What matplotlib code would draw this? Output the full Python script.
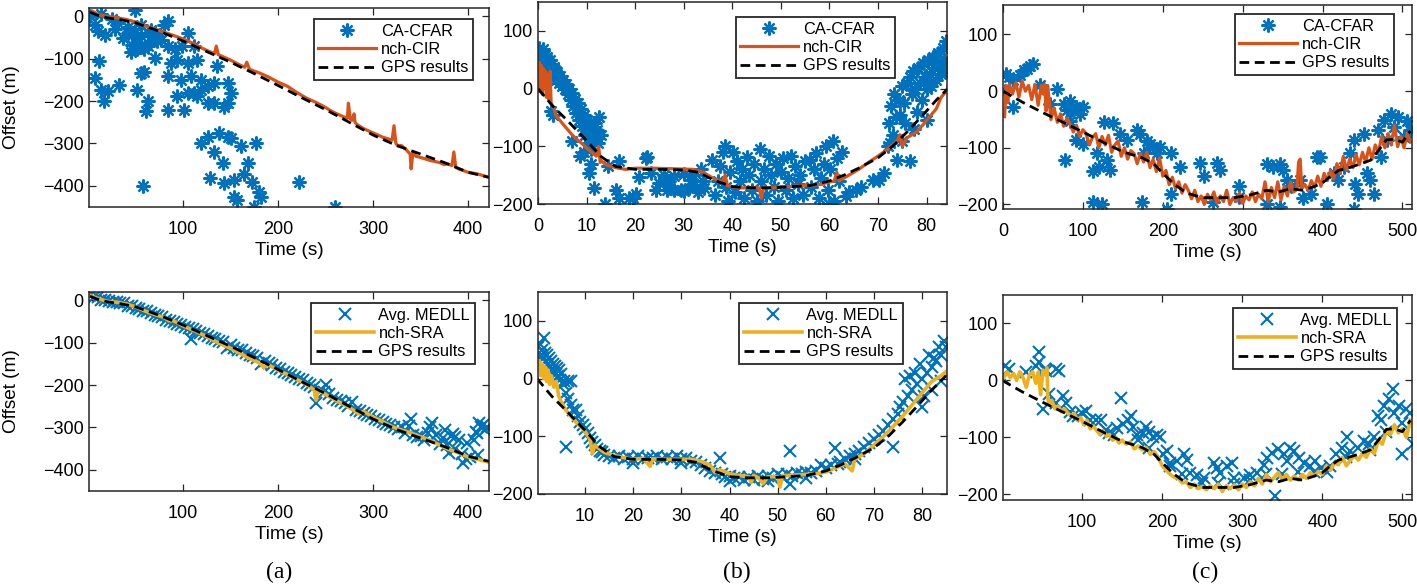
import matplotlib
matplotlib.use("Agg")
import matplotlib.pyplot as plt

plt.rcParams['font.family'] = ['Liberation Sans', 'DejaVu Sans']

BLUE = '#0072BD'
ORANGE = '#D95319'
YELLOW = '#EDB120'

# ---------------- column (a) ----------------
gps_a_t = [2, 10, 20, 35, 50, 75, 100, 125, 150, 175, 200, 225, 250, 275, 300, 325, 350, 375, 400, 422]
gps_a_y = [10, 3, -3, -8, -15, -35, -58, -83, -108, -135, -163, -192, -220, -250, -280, -305, -325, -345, -368, -380]

cir_a_t = [5, 10, 20, 30, 40, 50, 60, 75, 90, 100, 110, 120, 130, 133, 135, 137, 140, 150, 160, 165,
           167, 170, 180, 190, 200, 210, 220, 230, 240, 250, 255, 260, 270, 273, 274, 276, 278, 280, 281, 283,
           290, 300, 310, 320, 322, 324, 326, 330, 335, 339, 340, 342, 345, 350, 360, 370, 375, 378, 383, 385,
           387, 390, 400, 410, 422]
cir_a_y = [12, 5, 0, -3, -7, -13, -22, -33, -45, -53, -63, -75, -85, -88, -70, -90, -93, -103, -115, -120,
           -108, -125, -133, -143, -155, -165, -180, -193, -203, -215, -222, -228, -238, -240, -205, -242, -245, -230, -250, -255,
           -265, -275, -285, -292, -258, -300, -305, -305, -315, -325, -360, -320, -330, -333, -340, -345, -350, -348, -352, -320,
           -356, -360, -368, -372, -380]

cfar_a_t = [2, 7, 10, 18, 12, 7, 14, 21, 17, 33, 49, 84, 80, 105, 52, 52, 63, 84, 91, 99,
            87, 94, 105, 115, 112, 84, 98, 108, 105, 112, 119, 119, 126, 136, 133, 147, 150, 147, 133, 143,
            126, 115, 84, 101, 94, 52, 63, 61, 56, 59, 73, 77, 66, 42, 42, 49, 49, 46, 59, 66,
            73, 63, 56, 32, 25, 14, 56, 70, 70, 28, 37, 45,
            119, 126, 133, 138, 147, 150, 142, 128, 143, 154, 161, 177, 168, 164, 173, 180, 182, 154, 157, 175,
            222, 260, 58]
cfar_a_y = [0, -19, -35, -43, -106, -145, -173, -177, -200, -161, 15, -11, -19, -39, -62, -78, -70, -70, -78, -70,
            -110, -103, -110, -103, -70, -141, -149, -141, -181, -181, -149, -173, -165, -118, -157, -157, -181, -205, -205, -213,
            -205, -189, -220, -220, -189, -173, -200, -224, -133, -130, -47, -55, -31, -24, -39, -78, -39, -67, -78, -59,
            -59, -39, -47, -15, -7, 5, -19, -39, -98, -30, -50, -85,
            -299, -284, -319, -276, -284, -288, -347, -382, -394, -386, -307, -299, -347, -371, -390, -414, -426, -426, -434, -450,
            -390, -450, -400]

sra_a_t = [2, 10, 20, 30, 40, 50, 60, 70, 80, 85, 90, 100, 110, 120, 130, 140, 150, 160, 170, 180,
           185, 190, 200, 210, 220, 230, 238, 240, 242, 250, 260, 270, 280, 285, 290, 300, 310, 320, 330, 340,
           350, 360, 370, 380, 390, 400, 410, 422]
sra_a_y = [12, 5, -2, -4, -8, -15, -25, -33, -40, -48, -48, -60, -70, -80, -92, -103, -113, -125, -137, -147,
           -158, -152, -165, -175, -187, -198, -212, -236, -210, -222, -235, -247, -260, -268, -262, -275, -286, -298, -306, -313,
           -322, -330, -342, -352, -360, -370, -375, -382]

medll_a_t = [2, 6, 10, 14, 18, 22, 26, 30, 34, 38,
             42, 46, 50, 54, 58, 62, 66, 70, 74, 78,
             82, 86, 90, 94, 98, 102, 106, 108, 110, 114,
             118, 122, 126, 130, 134, 138, 142, 146, 150, 154,
             158, 162, 166, 170, 174, 178, 182, 186, 190, 194,
             198, 202, 206, 210, 214, 218, 222, 226, 230, 234,
             238, 240, 244, 248, 250, 254, 258, 262, 266, 270,
             274, 278, 282, 286, 290, 294, 298, 302, 306, 310,
             314, 318, 322, 326, 330, 334, 338, 340, 342, 346,
             350, 354, 358, 360, 362, 366, 370, 374, 376, 378,
             382, 384, 386, 390, 394, 398, 402, 406, 408, 410,
             412, 414, 416, 418, 420, 386, 399, 409, 380, 395]
medll_a_y = [12, 8, 8, 2, 0, -2, -3, -4, -5, -6,
             -12, -14, -18, -20, -24, -26, -30, -34, -36, -40,
             -45, -48, -50, -55, -58, -62, -65, -92, -68, -72,
             -76, -80, -84, -88, -90, -96, -98, -112, -106, -112,
             -116, -118, -124, -128, -132, -136, -150, -143, -148, -152,
             -160, -162, -168, -172, -176, -180, -186, -188, -196, -200,
             -204, -242, -212, -215, -200, -222, -230, -234, -238, -242,
             -250, -240, -258, -262, -265, -270, -274, -280, -282, -288,
             -292, -295, -300, -304, -300, -312, -296, -280, -318, -322,
             -320, -330, -312, -300, -290, -318, -338, -326, -305, -342,
             -320, -315, -350, -330, -362, -374, -370, -330, -310, -365,
             -290, -300, -295, -305, -300, -322, -337, -313, -360, -383]

# ---------------- column (b) ----------------
gps_b_t = [0, 3, 6, 10, 13, 16, 20, 25, 30, 33, 36, 40, 44, 48, 52, 56, 60, 63, 66, 70, 73, 76, 79, 82, 85]
gps_b_y = [0, -30, -55, -90, -118, -135, -140, -140, -141, -145, -158, -170, -172, -172, -170, -168, -160, -150, -138, -120,
           -100, -75, -48, -20, 5]

cir_b_t = [0.1, 0.3, 0.5, 0.7, 0.9, 1.1, 1.3, 1.5, 1.7, 2.0, 2.3, 2.5, 2.7, 3.0, 3.3, 3.6, 4, 5, 6, 7,
           8, 9, 10, 11, 12, 12.5, 12.8, 13, 14, 16, 18, 20, 24, 28, 32, 34, 36, 38, 38.5, 39,
           40, 42, 44, 45.5, 46, 46.5, 47, 48, 50, 52, 54, 56, 58, 60, 61, 61.5, 62, 64, 66, 68,
           70, 72, 74, 74.5, 75, 76, 78, 80, 82, 83, 84, 84.3, 84.6, 84.9]
cir_b_y = [-5, 45, 0, 40, -10, 35, 5, 30, -15, 25, -20, 30, -25, -30, -35, -45, -50, -60, -70, -80,
           -88, -95, -103, -110, -117, -100, -128, -125, -132, -137, -140, -138, -138, -139, -140, -145, -155, -162, -150, -168,
           -170, -172, -172, -172, -190, -170, -172, -172, -170, -170, -168, -168, -166, -162, -160, -145, -160, -150, -140, -128,
           -117, -105, -90, -80, -100, -85, -75, -55, -35, -15, -5, 0, 10, 50]

cfar_b_t = [0.2, 0.4, 0.6, 0.8, 1.0, 1.2, 1.4, 1.6, 1.8, 2.0,
            2.2, 2.4, 2.6, 2.8, 3.0, 3.2, 3.4, 3.6, 3.8, 4.0,
            4.3, 4.6, 4.9, 5.2, 5.5, 5.8, 6.1, 6.4, 6.7, 7.0,
            7.3, 7.6, 7.9, 8.2, 8.5, 8.8, 9.1, 9.4, 9.7, 10.0,
            10.3, 10.6, 10.9, 11.2, 11.5, 11.8, 12.2, 12.6, 12.9, 12.4,
            0.1, 2.6, 3.0, 8.6, 10.6, 11.6, 13.7, 7.0, 9.5, 11.0,
            14.5, 16.7, 16, 16.7, 18.8, 20.2, 20.8, 22.2, 23.2, 24.3,
            26.6, 28, 29.5, 31, 32.2, 31.5, 34.2, 33.6, 35.9, 27,
            25, 22.5, 30, 33, 19.5, 26, 28, 30, 32, 34,
            36.5, 37, 37.5, 38, 38.5, 38.8, 39.2, 39.6, 40.1, 40.5,
            41, 41.5, 42, 42.5, 43, 43.5, 44, 44.5, 45, 45.6,
            46, 46.5, 47, 47.6, 48, 48.5, 49, 49.5, 50, 50.5,
            51, 51.5, 52.1, 52.5, 53, 53.5, 54, 54.5, 55, 55.9,
            56.2, 56.8, 57.3, 57.8, 58.3, 58.8, 59.3, 59.8, 60.2, 60.7,
            61, 61.5, 62, 62.5, 63.4, 64, 65.5, 66.5, 69, 60,
            70.3, 71.3, 72, 72.3, 72.6, 73, 73.3, 73.6, 74, 74.3,
            74.6, 75, 75.3, 75.6, 76, 76.5, 76.5, 77, 77.3, 77.6,
            78, 78.3, 78.6, 79, 79.3, 79.6, 80, 80.3, 80.6, 81,
            81.3, 81.6, 82, 82.3, 82.6, 83, 83.3, 83.6, 84, 84,
            72.5, 75, 77.5, 80]
cfar_b_y = [70, 55, 62, 45, 68, 50, 58, 40, 55, 48,
            35, 50, 30, 42, 25, 38, 20, 32, 15, 28,
            10, 22, 5, 15, 0, 8, -10, 0, -20, -8,
            -30, -18, -42, -25, -55, -35, -65, -45, -80, -55,
            -95, -65, -105, -75, -90, -60, -72, -50, -80, -95,
            15, -38, -45, -117, -146, -172, -200, -90, -110, -130,
            -135, -126, -175, -189, -189, -183, -154, -121, -146, -175,
            -175, -175, -175, -172, -167, -158, -172, -140, -123, -160,
            -163, -119, -178, -180, -190, -150, -152, -148, -150, -160,
            -185, -160, -135, -110, -99, -170, -195, -145, -110, -180,
            -125, -160, -140, -190, -118, -150, -175, -130, -195, -104,
            -160, -140, -185, -116, -150, -170, -130, -195, -145, -120,
            -175, -155, -116, -190, -135, -165, -150, -185, -125, -123,
            -170, -140, -112, -190, -155, -130, -100, -175, -140, -90,
            -195, -120, -160, -110, -187, -180, -175, -170, -158, -200,
            -158, -146, -100, -60, -30, -80, -10, -50, -123, -20,
            -45, 5, -25, -60, 10, -126, 20, -10, 30, 0,
            -40, 35, 10, -20, 45, 20, 0, 50, 25, 5,
            55, 35, 15, 62, 40, 25, 70, 50, 82, 30,
            -95, -90, -70, -55]

sra_b_t = [0.5, 0.8, 1.1, 1.4, 1.7, 2, 2.3, 2.6, 3, 3.5, 4, 4.5, 5, 6, 7, 8, 9, 10, 11, 11.5,
           12, 13, 14, 16, 18, 20, 22, 23.5, 24, 26, 28, 30, 32, 34, 36, 37, 38, 40, 42, 44,
           44.5, 45, 46, 47, 48, 50, 50.5, 51, 52, 54, 56, 58, 60, 62, 64, 65.5, 66, 68, 70, 72,
           74, 76, 78, 80, 82, 84, 85]
sra_b_y = [30, 5, 25, 0, 20, -5, 15, -10, 5, -15, -5, -30, -40, -55, -65, -75, -83, -92, -105, -130,
           -115, -122, -128, -133, -137, -140, -138, -152, -139, -140, -140, -140, -140, -143, -150, -163, -158, -165, -168, -170,
           -180, -168, -172, -182, -170, -170, -188, -168, -168, -167, -166, -165, -162, -155, -148, -160, -140, -130, -115, -100,
           -83, -65, -45, -25, -5, 5, 12]

medll_b_t = [0.3, 0.5, 0.7, 0.9, 1.1, 1.3, 1.5, 1.7, 1.9, 2.1,
             2.3, 2.5, 2.7, 2.9, 3.1, 3.3, 3.5, 3.7, 3.9, 4.1,
             4.3, 4.5, 4.7, 5, 5.3, 5.6, 6, 6.5, 7, 8,
             6, 6.5, 7, 7.5, 8.5, 9, 9.5, 10, 10.5, 11,
             11.5, 12, 12.5, 13, 13.5, 14, 15, 16, 17, 18,
             19, 20, 21, 22, 23, 24, 25, 26, 27, 28,
             29, 30, 31, 32, 33, 34, 35, 36, 37, 38,
             38.5, 39, 40, 41, 42, 43, 44, 45, 46, 47,
             48, 49, 50, 51, 52, 52.5, 52.5, 53, 54, 55,
             56, 57, 58, 59, 60, 61, 62, 62.5, 63, 64,
             65, 66, 67, 68, 69, 70, 71, 72, 73, 74,
             74, 75, 75.5, 76, 76.5, 77, 77.5, 78, 78.5, 79,
             79.5, 80, 80.5, 81, 81.5, 82, 82.5, 83, 83.5, 84,
             84.5, 85, 80, 82, 84, 20, 30, 40, 48, 56, 66]
medll_b_y = [55, 45, 60, 40, 50, 35, 70, 45, 30, 40,
             25, 35, 20, 30, 15, 25, 10, 22, 8, 18,
             5, 15, -2, 8, -10, -5, -118, -5, -5, -55,
             -25, -35, -45, -55, -65, -75, -80, -88, -95, -103,
             -110, -115, -122, -125, -128, -132, -135, -137, -135, -140,
             -136, -140, -135, -140, -137, -138, -135, -140, -136, -140,
             -135, -140, -137, -142, -145, -150, -155, -160, -163, -138,
             -165, -170, -168, -172, -170, -175, -170, -176, -168, -174,
             -168, -172, -166, -170, -165, -126, -183, -168, -164, -166,
             -162, -164, -160, -150, -155, -150, -120, -148, -145, -140,
             -135, -130, -125, -118, -112, -105, -98, -90, -80, -118,
             -70, -62, -50, -40, 0, -30, 5, -20, 10, -10,
             25, 0, -30, 10, 40, 20, 35, 30, 55, 40,
             65, 55, -50, -20, -5, -146, -146, -178, -178, -172, -140]

# ---------------- column (c) ----------------
gps_c_t = [0, 25, 50, 75, 100, 125, 150, 175, 190, 200, 215, 230, 250, 270, 290, 310, 330, 345, 360, 375,
           390, 400, 410, 420, 440, 460, 470, 480, 490, 500, 510]
gps_c_y = [0, -20, -38, -55, -72, -90, -107, -118, -130, -145, -165, -180, -188, -188, -188, -183, -175, -178, -172, -175,
           -168, -162, -150, -140, -132, -122, -105, -86, -85, -90, -70]

cir_c_t = [2, 4, 6, 8, 12, 16, 20, 24, 28, 32, 36, 40, 44, 48, 50, 52, 54, 56, 58, 60,
           64, 68, 72, 76, 80, 84, 88, 92, 96, 100, 104, 108, 112, 116, 120, 124, 128, 132, 136, 140,
           144, 148, 152, 156, 160, 164, 168, 172, 176, 180, 184, 188, 192, 196, 200, 204, 208, 212, 216, 220,
           224, 228, 232, 236, 240, 244, 248, 252, 256, 260, 264, 268, 272, 276, 280, 284, 288, 292, 296, 300,
           304, 308, 312, 316, 320, 324, 328, 332, 336, 340, 344, 348, 352, 356, 360, 364, 368, 370, 372, 374,
           378, 382, 386, 390, 394, 398, 402, 406, 410, 414, 418, 422, 426, 430, 434, 438, 442, 446, 450, 454,
           458, 462, 466, 470, 474, 478, 482, 486, 490, 494, 498, 502, 506, 510]
cir_c_y = [-45, 10, -20, 12, -5, 15, -10, 18, 0, 10, -15, 12, -25, 10, -5, 12, -35, 10, -20, -50,
           -30, -55, -40, -62, -48, -58, -72, -60, -80, -68, -75, -95, -82, -75, -100, -80, -95, -78, -108, -95,
           -88, -115, -100, -120, -105, -110, -128, -110, -125, -108, -135, -120, -142, -118, -150, -140, -165, -152, -172, -160,
           -180, -165, -175, -190, -175, -195, -185, -200, -182, -192, -178, -198, -185, -195, -175, -200, -188, -195, -180, -198,
           -185, -192, -178, -195, -182, -190, -160, -195, -170, -188, -160, -192, -168, -185, -160, -178, -170, -125, -120, -172,
           -165, -175, -158, -170, -150, -168, -145, -158, -140, -155, -128, -145, -115, -140, -120, -135, -112, -130, -108, -125,
           -100, -120, -95, -108, -80, -100, -75, -95, -60, -98, -80, -100, -75, -90]

cfar_c_t = [2, 4, 8, 12, 30, 34, 38, 26, 21, 13,
            46, 59, 67, 76, 80, 84, 88, 92, 96, 100,
            84, 78, 92, 100, 126, 138, 118, 120, 113, 130,
            134, 113, 124, 147, 155, 168, 172, 176, 180, 184,
            188, 193, 197, 210, 174, 205, 210, 222, 247, 251,
            268, 272, 263, 296, 296, 330, 338, 347, 351, 355,
            360, 330, 347, 376, 385, 393, 397, 414, 419, 427,
            435, 439, 441, 444, 440, 456, 460, 452, 469, 465,
            473, 477, 486, 494, 506, 510, 490, 481, 502, 406,
            372]
cfar_c_y = [0, 30, 25, 20, 39, 45, 48, 37, 28, -28,
            10, -22, 4, -22, -34, -17, -34, -28, -40, -28,
            -52, -122, -87, -93, -54, -57, -110, -134, -141, -122,
            -139, -196, -199, -75, -87, -69, -75, -110, -88, -93,
            -99, -110, -99, -110, -196, -208, -181, -134, -127, -150,
            -127, -139, -196, -168, -186, -128, -134, -128, -139, -157,
            -168, -199, -205, -188, -182, -116, -116, -145, -157, -134,
            -110, -87, -163, -181, -208, -145, -157, -75, -69, -181,
            -116, -51, -40, -46, -52, -69, -63, -87, -81, -199,
            -157]

sra_c_t = [2, 6, 10, 14, 18, 22, 26, 30, 34, 38, 42, 45, 48, 51, 54, 56, 57, 58, 62, 66,
           70, 74, 78, 82, 86, 90, 94, 98, 102, 106, 110, 114, 118, 122, 126, 130, 134, 138, 142, 146,
           150, 155, 160, 165, 170, 175, 180, 185, 190, 195, 200, 205, 210, 215, 220, 225, 230, 235, 240, 245,
           250, 255, 260, 265, 270, 275, 280, 285, 290, 295, 300, 305, 310, 315, 320, 325, 330, 335, 340, 345,
           350, 355, 360, 365, 370, 375, 380, 385, 390, 395, 400, 405, 410, 415, 420, 425, 430, 435, 440, 445,
           450, 455, 460, 465, 470, 475, 480, 485, 490, 495, 500, 505, 510]
sra_c_y = [5, 15, 5, 12, 0, 15, 5, -12, 10, 15, -5, 15, -25, 18, 10, 22, -30, -40, -35, -50,
           -45, -55, -50, -58, -62, -58, -70, -65, -78, -70, -85, -80, -88, -95, -88, -98, -95, -105, -100, -110,
           -105, -112, -108, -120, -115, -122, -118, -130, -125, -135, -150, -158, -165, -170, -172, -180, -178, -188, -182, -190,
           -186, -192, -185, -190, -182, -195, -185, -190, -183, -192, -182, -188, -178, -185, -172, -182, -165, -178, -170, -162,
           -175, -165, -175, -168, -175, -165, -172, -162, -168, -160, -165, -150, -158, -145, -148, -135, -150, -140, -132, -140,
           -128, -135, -120, -128, -105, -112, -88, -95, -78, -92, -85, -100, -70]

medll_c_t = [1, 3, 9, 30, 42, 46, 46, 53, 55, 51,
             59, 67, 71, 76, 80, 67, 88, 100, 105, 117,
             124, 130, 134, 143, 149, 151, 157, 161, 163, 168,
             176, 180, 184, 188, 193, 197, 184, 201, 206, 210,
             218, 227, 231, 235, 243, 252, 264, 268, 272, 281,
             287, 289, 302, 310, 318, 327, 331, 337, 344, 341,
             352, 356, 360, 365, 371, 377, 385, 391, 398, 406,
             417, 425, 431, 435, 444, 452, 458, 465, 469, 473,
             477, 483, 488, 490, 496, 500, 505, 500, 513, 509,
             85, 95, 110, 140, 170, 210, 225, 250, 270, 290,
             310, 330, 350, 370, 390, 410, 430, 460, 480]
medll_c_y = [5, 26, 20, 14, 26, 50, 32, 20, 17, -50,
             -23, 20, 17, -27, -40, -40, -63, -57, -54, -69,
             -69, -87, -93, -84, -31, -77, -69, -63, -81, -96,
             -93, -81, -90, -99, -96, -99, -118, -130, -124, -145,
             -142, -130, -139, -163, -166, -172, -145, -154, -163, -151,
             -145, -172, -172, -166, -163, -148, -136, -127, -121, -203,
             -130, -142, -118, -124, -136, -145, -151, -142, -154, -160,
             -130, -118, -100, -124, -118, -106, -112, -100, -63, -69,
             -45, -33, -15, -57, -45, -75, -51, -130, -112, -57,
             -55, -62, -70, -95, -105, -150, -165, -180, -180, -182,
             -175, -165, -165, -160, -160, -150, -135, -122, -90]

# ---------------- layout helpers ----------------
W, H = 1417, 586
fig = plt.figure(figsize=(W / 100, H / 100), dpi=100)


def px_axes(left, top, right, bottom):
    return fig.add_axes([left / W, 1 - bottom / H, (right - left) / W, (bottom - top) / H])


def style(ax, xlim, ylim, xticks, yticks):
    ax.set_xlim(*xlim)
    ax.set_ylim(*ylim)
    ax.set_xticks(xticks)
    ax.set_yticks(yticks)
    ax.tick_params(direction='in', length=5, width=0.9, top=True, right=True,
                   labelsize=13, colors='#262626', labelcolor='black')
    ax.tick_params(axis='x', pad=10)
    ax.tick_params(axis='y', pad=4)
    for s in ax.spines.values():
        s.set_linewidth(1.1)
        s.set_color('#262626')
    ax.set_xlabel('Time (s)', fontsize=13.7, labelpad=3)


def add_legend(ax, right_px, top_px):
    leg = ax.legend(loc='upper right', bbox_to_anchor=(right_px / W, 1 - top_px / H),
                    bbox_transform=fig.transFigure, fontsize=11.8, frameon=True, fancybox=False,
                    framealpha=1, edgecolor='#262626', handlelength=3.5, handletextpad=0.3,
                    borderpad=0.3, labelspacing=0.2, borderaxespad=0, numpoints=1)
    leg.get_frame().set_linewidth(1.3)


def draw_top(ax, st, sy, lt, ly, gt, gy):
    ax.plot(st, sy, linestyle='none', marker=(8, 2, 0), ms=10, mew=1.6, color=BLUE, label='CA-CFAR')
    ax.plot(lt, ly, color=ORANGE, lw=2.3, label='nch-CIR')
    ax.plot(gt, gy, color='black', lw=2, dashes=(3.5, 2), label='GPS results')


def draw_bottom(ax, st, sy, lt, ly, gt, gy):
    ax.plot(st, sy, linestyle='none', marker='x', ms=8, mew=1.5, color=BLUE, label='Avg. MEDLL')
    ax.plot(lt, ly, color=YELLOW, lw=2.6, label='nch-SRA')
    ax.plot(gt, gy, color='black', lw=2, dashes=(3.5, 2), label='GPS results')


# top row
ax = px_axes(89, 8, 489, 207)
draw_top(ax, cfar_a_t, cfar_a_y, cir_a_t, cir_a_y, gps_a_t, gps_a_y)
style(ax, (1, 422), (-450, 20), [100, 200, 300, 400], [-400, -300, -200, -100, 0])
ax.set_ylabel('Offset (m)', fontsize=13.7, labelpad=16)
add_legend(ax, 473, 19)

ax = px_axes(538, 2, 947, 204)
draw_top(ax, cfar_b_t, cfar_b_y, cir_b_t, cir_b_y, gps_b_t, gps_b_y)
style(ax, (0, 84.2), (-200, 150), list(range(0, 81, 10)), [-200, -100, 0, 100])
add_legend(ax, 895, 17)

ax = px_axes(1003, 5, 1412, 209)
draw_top(ax, cfar_c_t, cfar_c_y, cir_c_t, cir_c_y, gps_c_t, gps_c_y)
style(ax, (0, 512), (-208, 152), [0, 100, 200, 300, 400, 500], [-200, -100, 0, 100])
add_legend(ax, 1394, 14)

# bottom row
ax = px_axes(89, 292, 489, 491)
draw_bottom(ax, medll_a_t, medll_a_y, sra_a_t, sra_a_y, gps_a_t, gps_a_y)
style(ax, (1, 422), (-450, 20), [100, 200, 300, 400], [-400, -300, -200, -100, 0])
ax.set_ylabel('Offset (m)', fontsize=13.7, labelpad=16)
add_legend(ax, 475, 303)

ax = px_axes(538, 292, 947, 494)
draw_bottom(ax, medll_b_t, medll_b_y, sra_b_t, sra_b_y, gps_b_t, gps_b_y)
style(ax, (0.2, 85.2), (-200, 150), list(range(10, 81, 10)), [-200, -100, 0, 100])
add_legend(ax, 903, 303)

ax = px_axes(1003, 295, 1412, 500)
draw_bottom(ax, medll_c_t, medll_c_y, sra_c_t, sra_c_y, gps_c_t, gps_c_y)
style(ax, (1, 512), (-210, 150), [100, 200, 300, 400, 500], [-200, -100, 0, 100])
add_legend(ax, 1397, 308)

for x, s in [(279, '(a)'), (737, '(b)'), (1205, '(c)')]:
    fig.text(x / W, 1 - 572 / H, s, ha='center', va='center', fontsize=17, family='Liberation Serif')

fig.savefig('out.png', dpi=100)
